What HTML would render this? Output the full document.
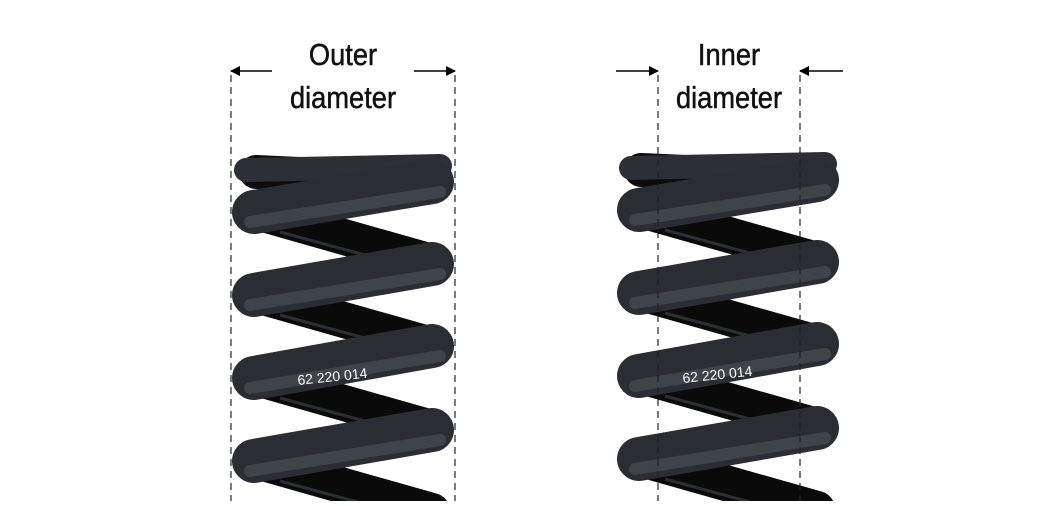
<!DOCTYPE html>
<html><head><meta charset="utf-8"><style>
html,body{margin:0;padding:0;background:#fff;}
body{width:1050px;height:501px;overflow:hidden;}
</style></head><body>
<svg width="1050" height="501" viewBox="0 0 1050 501" xmlns="http://www.w3.org/2000/svg">
<defs>
<marker id="ah" markerWidth="10" markerHeight="10" refX="9" refY="5" orient="auto" markerUnits="userSpaceOnUse">
<path d="M0,0 L10,5 L0,10 z" fill="#000"/>
</marker>
<g id="spring">
  <path d="M256,172 L432,180" stroke="#0c0c0e" stroke-width="34" stroke-linecap="round"/>
  <path d="M256,212 L432,262" stroke="#0a0a0b" stroke-width="36" stroke-linecap="round"/>
  <path d="M256,295 L432,345" stroke="#0a0a0b" stroke-width="36" stroke-linecap="round"/>
  <path d="M256,378 L432,428" stroke="#0a0a0b" stroke-width="36" stroke-linecap="round"/>
  <path d="M256,461 L432,511" stroke="#0a0a0b" stroke-width="36" stroke-linecap="round"/>
  <g stroke="#3a3f48" stroke-width="3" opacity=".7">
    <path d="M280,232 L420,270"/><path d="M280,315 L420,353"/><path d="M280,398 L420,436"/><path d="M280,481 L420,519"/>
  </g>
  <path d="M246,170 L440,166" stroke="#2c3036" stroke-width="24" stroke-linecap="round"/>
  <path d="M254,212 L432,182" stroke="#2a2e34" stroke-width="44" stroke-linecap="round"/>
  <path d="M254,295 L432,264" stroke="#2a2e34" stroke-width="44" stroke-linecap="round"/>
  <path d="M254,378 L432,346" stroke="#2a2e34" stroke-width="44" stroke-linecap="round"/>
  <path d="M254,461 L432,430" stroke="#2a2e34" stroke-width="44" stroke-linecap="round"/>
  <g stroke="#8a9099" stroke-width="12" opacity=".22" stroke-linecap="round">
    <path d="M250,222 L440,192"/>
    <path d="M250,305 L440,274"/>
    <path d="M250,388 L440,356"/>
    <path d="M250,471 L440,440"/>
  </g>
  <text x="0" y="0" transform="translate(298,385) rotate(-6)" font-family="Liberation Sans, sans-serif" font-size="14" fill="#fff">62 220 014</text>
</g>
</defs>

<rect width="1050" height="501" fill="#fff"/>
<use href="#spring"/>
<use href="#spring" transform="translate(385,-2)"/>

<g stroke="#222" stroke-width="1.2" stroke-dasharray="7,5">
  <line x1="231" y1="75" x2="231" y2="501"/>
  <line x1="455" y1="75" x2="455" y2="501"/>
  <line x1="658" y1="75" x2="658" y2="501"/>
  <line x1="800" y1="75" x2="800" y2="501"/>
</g>
<g stroke="#000" stroke-width="1.5">
  <line x1="272" y1="71" x2="231" y2="71" marker-end="url(#ah)"/>
  <line x1="414" y1="71" x2="455" y2="71" marker-end="url(#ah)"/>
  <line x1="616" y1="71" x2="658" y2="71" marker-end="url(#ah)"/>
  <line x1="843" y1="71" x2="800" y2="71" marker-end="url(#ah)"/>
</g>
<g font-family="Liberation Sans, sans-serif" font-size="31" fill="#111" stroke="#111" stroke-width="0.5" text-anchor="middle">
  <text transform="translate(343,65) scale(0.88,1)">Outer</text>
  <text transform="translate(343,108) scale(0.88,1)">diameter</text>
  <text transform="translate(729,65) scale(0.88,1)">Inner</text>
  <text transform="translate(729,108) scale(0.88,1)">diameter</text>
</g>
</svg>
</body></html>
